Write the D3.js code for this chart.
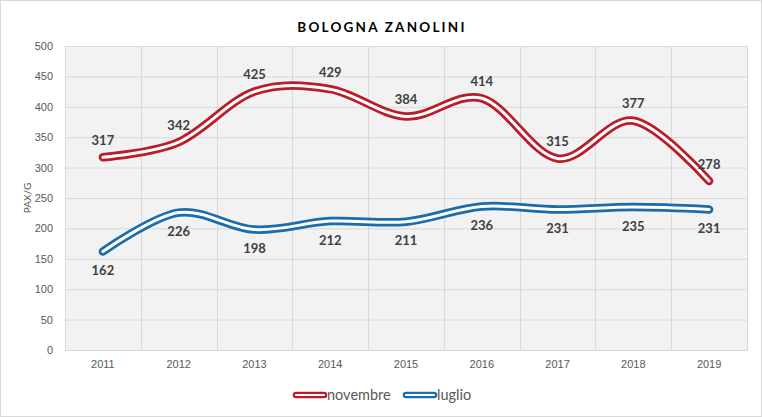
<!DOCTYPE html>
<html>
<head>
<meta charset="utf-8">
<script src="https://cdn.jsdelivr.net/npm/d3@7"></script>
<style>
  body { margin: 0; background: #fff; }
  svg { display: block; font-family: Lato, "Open Sans", sans-serif; }
</style>
</head>
<body>
<svg id="chart" width="762" height="417"></svg>
<script>
// chart data
const years = ['2011', '2012', '2013', '2014', '2015', '2016', '2017', '2018', '2019'];
const novembre = [317, 342, 425, 429, 384, 414, 315, 377, 278];
const luglio = [162, 226, 198, 212, 211, 236, 231, 235, 231];
const yTicks = [0, 50, 100, 150, 200, 250, 300, 350, 400, 450, 500];

const series = [
  { name: 'novembre', values: novembre, color: '#BA1C2B', labelDy: -17 },
  { name: 'luglio', values: luglio, color: '#1A6CAB', labelDy: 19 }
];

const width = 762, height = 417;
const margin = { top: 46, right: 15, bottom: 67, left: 65 };
const innerWidth = width - margin.left - margin.right;
const innerHeight = height - margin.top - margin.bottom;

const svg = d3.select('#chart');

// outer frame
svg.append('rect')
  .attr('x', 0.5).attr('y', 0.5)
  .attr('width', width - 1).attr('height', height - 1)
  .attr('fill', '#fff').attr('stroke', '#d9d9d9');

const xScale = d3.scaleBand().domain(years).range([0, innerWidth]);
const yScale = d3.scaleLinear().domain([0, 500]).range([innerHeight, 0]);

const g = svg.append('g').attr('transform', `translate(${margin.left},${margin.top})`);

// plot background
g.append('rect')
  .attr('width', innerWidth).attr('height', innerHeight)
  .attr('fill', '#f2f2f2');

// horizontal grid
g.append('g')
  .attr('class', 'y grid')
  .call(d3.axisLeft(yScale).tickValues(yTicks).tickSize(-innerWidth).tickFormat(''))
  .call(s => s.select('.domain').remove())
  .call(s => s.selectAll('.tick text').remove())
  .call(s => s.selectAll('.tick line').attr('stroke', '#d9d9d9'));

// vertical grid on category boundaries
const bounds = d3.range(years.length + 1).map(i => i * xScale.step());
g.append('g')
  .selectAll('line')
  .data(bounds)
  .join('line')
  .attr('x1', d => Math.round(d) + 0.5)
  .attr('x2', d => Math.round(d) + 0.5)
  .attr('y1', 0).attr('y2', innerHeight)
  .attr('stroke', '#d9d9d9');

// y axis
const yAxis = g.append('g')
  .attr('class', 'y axis')
  .call(d3.axisLeft(yScale).tickValues(yTicks).tickSize(0).tickPadding(12));
yAxis.select('.domain').remove();
yAxis.selectAll('.tick text').attr('fill', '#595959').attr('font-size', 11);

// x axis
const xAxis = g.append('g')
  .attr('class', 'x axis')
  .attr('transform', `translate(0,${innerHeight})`)
  .call(d3.axisBottom(xScale).tickSize(0).tickPadding(10));
xAxis.select('.domain').attr('stroke', '#d9d9d9');
xAxis.selectAll('.tick text').attr('fill', '#595959').attr('font-size', 11);

// lines: thick coloured stroke with a white core
const line = d3.line()
  .x((d, i) => xScale(years[i]) + xScale.bandwidth() / 2)
  .y(d => yScale(d))
  .curve(d3.curveCardinal.tension(0));

series.forEach(s => {
  g.append('path')
    .datum(s.values)
    .attr('d', line)
    .attr('fill', 'none')
    .attr('stroke', s.color)
    .attr('stroke-width', 8.5)
    .attr('stroke-linecap', 'round')
    .attr('stroke-linejoin', 'round');
  g.append('path')
    .datum(s.values)
    .attr('d', line)
    .attr('fill', 'none')
    .attr('stroke', '#fff')
    .attr('stroke-width', 3)
    .attr('stroke-linecap', 'round')
    .attr('stroke-linejoin', 'round');
});

// data labels
series.forEach(s => {
  g.append('g')
    .selectAll('text')
    .data(s.values)
    .join('text')
    .attr('x', (d, i) => xScale(years[i]) + xScale.bandwidth() / 2)
    .attr('y', d => yScale(d) + s.labelDy)
    .attr('dy', '0.35em')
    .attr('text-anchor', 'middle')
    .attr('font-size', 13)
    .attr('font-weight', 'bold')
    .attr('fill', '#404040')
    .text(d => d);
});

// title
svg.append('text')
  .attr('x', width / 2 + 1).attr('y', 27)
  .attr('dy', '0.35em')
  .attr('text-anchor', 'middle')
  .attr('font-size', 13.5)
  .attr('font-weight', 'bold')
  .attr('letter-spacing', 2.2)
  .attr('fill', '#000')
  .text('BOLOGNA ZANOLINI');

// y axis title
svg.append('text')
  .attr('transform', `translate(27,${margin.top + innerHeight / 2}) rotate(-90)`)
  .attr('dy', '0.35em')
  .attr('text-anchor', 'middle')
  .attr('font-size', 10)
  .attr('fill', '#595959')
  .text('PAX/G');

// legend
const legendX = [293, 403];
const legend = svg.append('g').attr('transform', 'translate(0,395)');
series.forEach((s, i) => {
  const lg = legend.append('g').attr('transform', `translate(${legendX[i]},0)`);
  lg.append('line').attr('x1', 3).attr('x2', 31).attr('y1', 0).attr('y2', 0)
    .attr('stroke', s.color).attr('stroke-width', 6.5).attr('stroke-linecap', 'round');
  lg.append('line').attr('x1', 3).attr('x2', 31).attr('y1', 0).attr('y2', 0)
    .attr('stroke', '#fff').attr('stroke-width', 2.2).attr('stroke-linecap', 'round');
  lg.append('text').attr('x', 34).attr('dy', '0.35em')
    .attr('font-size', 14.5).attr('fill', '#595959').text(s.name);
});
</script>
</body>
</html>
